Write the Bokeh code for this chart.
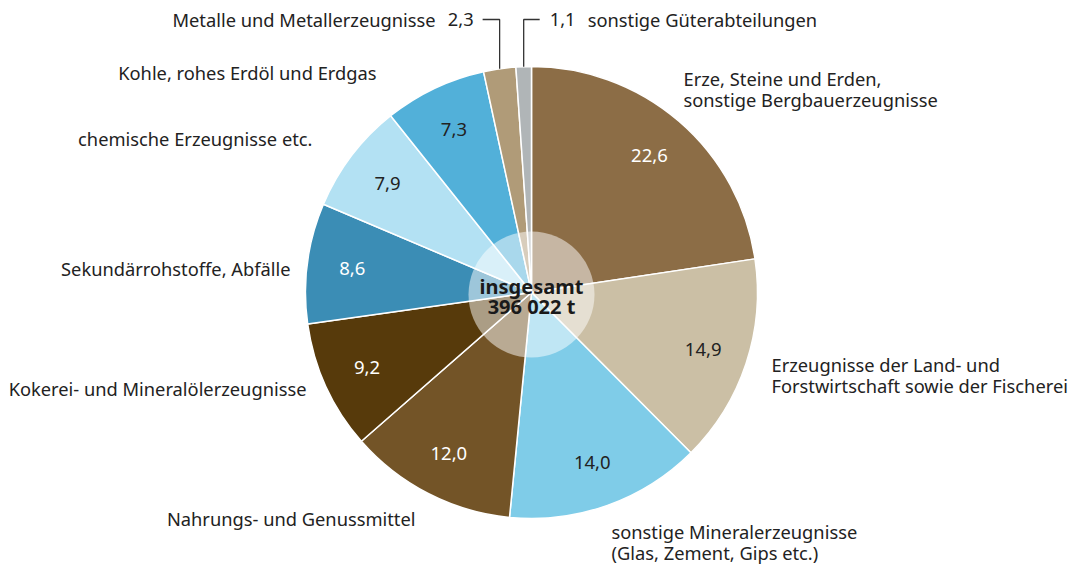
import math
from bokeh.plotting import figure
from bokeh.models import Range1d
from bokeh.core.properties import value
from bokeh.embed import file_html
from bokeh.resources import INLINE

# ---- data ----
categories = [
    "Erze, Steine und Erden,\nsonstige Bergbauerzeugnisse",
    "Erzeugnisse der Land- und\nForstwirtschaft sowie der Fischerei",
    "sonstige Mineralerzeugnisse\n(Glas, Zement, Gips etc.)",
    "Nahrungs- und Genussmittel",
    "Kokerei- und Mineralölerzeugnisse",
    "Sekundärrohstoffe, Abfälle",
    "chemische Erzeugnisse etc.",
    "Kohle, rohes Erdöl und Erdgas",
    "Metalle und Metallerzeugnisse",
    "sonstige Güterabteilungen",
]
shares = [22.6, 14.9, 14.0, 12.0, 9.2, 8.6, 7.9, 7.3, 2.3, 1.1]
total_label = ["insgesamt", "396 022 t"]

# ---- styles ----
colors = ["#8c6d46", "#cbbfa5", "#7fcce8", "#735427", "#573a0b",
          "#3b8db5", "#b3e1f3", "#52b0d9", "#b09b78", "#b0b5b7"]
value_colors = ["white", "#222222", "#222222", "white", "white",
                "white", "#222222", "#222222", None, None]
FONT = value("Noto Sans")
FS = "18.3px"
TXT = "#222222"
W, H = 1078, 565
CX, CY, R = 531, H - 292, 226

# outer label anchors (x, y-center of first line, align)
label_pos = [
    (683, 78, "left"),
    (771, 364, "left"),
    (611, 531, "left"),
    (415, 518, "right"),
    (306, 388, "right"),
    (290, 268, "right"),
    (312, 138, "right"),
    (376, 72, "right"),
]
LINE_GAP = 20.5

p = figure(width=W, height=H, output_backend="svg", toolbar_location=None,
           x_range=Range1d(0, W), y_range=Range1d(0, H),
           min_border=0, outline_line_color=None)
p.axis.visible = False
p.grid.visible = False

tot = sum(shares)
cum = 0.0
starts, ends, mids = [], [], []
for s in shares:
    a0 = math.pi / 2 - 2 * math.pi * cum / tot
    cum += s
    a1 = math.pi / 2 - 2 * math.pi * cum / tot
    starts.append(a0)
    ends.append(a1)
    mids.append((a0 + a1) / 2)

p.wedge(x=[CX] * len(shares), y=[CY] * len(shares), radius=R,
        start_angle=starts, end_angle=ends, direction="clock",
        fill_color=colors, line_color="white", line_width=1.5)

# center disc
p.scatter(x=[CX], y=[CY - 2], size=126, marker="circle",
          fill_color="white", fill_alpha=0.5, line_color=None)

# value labels inside slices
fmt = lambda v: f"{v:.1f}".replace(".", ",")
for i, s in enumerate(shares):
    if value_colors[i] is None:
        continue
    rr = 0.8 * R
    p.text(x=[CX + rr * math.cos(mids[i])], y=[CY + rr * math.sin(mids[i])],
           text=[fmt(s)], text_font=FONT, text_font_size="18.5px",
           text_color=value_colors[i], text_align="center", text_baseline="middle")

# outer labels
for i, (lx, ly, al) in enumerate(label_pos):
    for j, line in enumerate(categories[i].split("\n")):
        p.text(x=[lx], y=[H - (ly + LINE_GAP * j)], text=[line], text_font=FONT,
               text_font_size=FS, text_color=TXT, text_align=al,
               text_baseline="middle")

# small slices with leader lines
ytop = H - 19
# Metalle (index 8)
xm = CX + R * math.cos(mids[8])
ym = CY + R * math.sin(mids[8])
p.line(x=[xm - 17, xm, xm], y=[ytop, ytop, ym], line_color="#333333", line_width=1.3)
p.text(x=[xm - 26], y=[ytop], text=[fmt(shares[8])], text_font=FONT,
       text_font_size=FS, text_color=TXT, text_align="right", text_baseline="middle")
p.text(x=[xm - 64], y=[ytop], text=[categories[8]], text_font=FONT,
       text_font_size=FS, text_color=TXT, text_align="right", text_baseline="middle")
# sonstige (index 9)
xs = CX + R * math.cos(mids[9])
ys = CY + R * math.sin(mids[9])
p.line(x=[xs, xs, xs + 16], y=[ys, ytop, ytop], line_color="#333333", line_width=1.3)
p.text(x=[xs + 26], y=[ytop], text=[fmt(shares[9])], text_font=FONT,
       text_font_size=FS, text_color=TXT, text_align="left", text_baseline="middle")
p.text(x=[xs + 64], y=[ytop], text=[categories[9]], text_font=FONT,
       text_font_size=FS, text_color=TXT, text_align="left", text_baseline="middle")

# total in center
for j, t in enumerate(total_label):
    p.text(x=[CX], y=[H - (286 + 20 * j)], text=[t], text_font=FONT,
           text_font_size="20px", text_font_style="bold", text_color="#1a1a1a",
           text_align="center", text_baseline="middle")

open("out.html", "w").write(file_html(p, INLINE))
